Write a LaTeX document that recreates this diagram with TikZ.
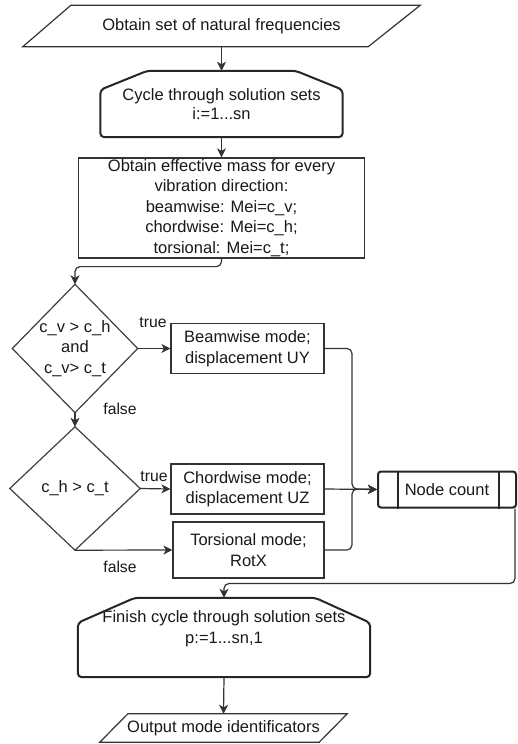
\documentclass[tikz,border=0pt]{standalone}
\usepackage{fontspec}
\setmainfont{Liberation Sans}
\usetikzlibrary{arrows.meta,calc}
\begin{document}
\begin{tikzpicture}[x=1pt,y=-1pt,
  ink/.style={draw=black!80, line width=1.2pt},
  boldline/.style={draw=black!85, line width=2pt},
  txt/.style={font=\fontsize{16.5}{20.5}\selectfont, text=black!90, align=center, inner sep=0pt},
  lbl/.style={font=\fontsize{15.7}{19}\selectfont, text=black!90, inner sep=0pt},
  flow/.style={draw=black!80, line width=1.2pt, rounded corners=5pt,
    -{Stealth[length=9pt,width=9pt,inset=2.5pt]}},
  procbox/.style={txt, ink, rectangle},
]
\useasboundingbox (0,0) rectangle (518,744);
\fill[white] (0,0) rectangle (518,744);

% input data
\node[txt, minimum width=397pt, minimum height=41pt] (in) at (221.5,26) {Obtain set of natural frequencies};
\draw[ink] ($(in.north west)+(48,0)$) -- (in.north east) -- ($(in.south east)+(-52,0)$) -- (in.south west) -- cycle;

% loop start
\node[txt, font=\fontsize{16.5}{19}\selectfont, minimum width=242pt, minimum height=66pt] (l1) at (221.5,104)
  {Cycle through solution sets\\ i:=1...sn};
\draw[boldline, rounded corners=4pt] ($(l1.north west)+(47,0)$) -- ($(l1.north east)+(-47,0)$)
  -- ($(l1.north east)+(0,19)$) -- (l1.south east) -- (l1.south west)
  -- ($(l1.north west)+(0,19)$) -- cycle;

% effective mass
\node[procbox, minimum width=286pt, minimum height=100pt] (mass) at (221.5,208)
  {Obtain effective mass for every\\ vibration direction:\\ beamwise: Mei=c\_v;\\
   chordwise: Mei=c\_h;\\ torsional: Mei=c\_t;};

% decisions
\node[txt, minimum width=125pt, minimum height=128pt] (d1) at (75,348.5)
  {c\_v > c\_h\\ and\\ c\_v> c\_t};
\draw[ink, draw=black!75] (d1.north) -- (d1.east) -- (d1.south) -- (d1.west) -- cycle;

\node[txt, minimum width=130pt, minimum height=123pt] (d2) at (75,488.5) {c\_h > c\_t};
\draw[ink, draw=black!75] (d2.north) -- (d2.east) -- (d2.south) -- (d2.west) -- cycle;

% modes
\node[procbox, minimum width=153pt, minimum height=50pt] (beam) at (247.5,348.5)
  {Beamwise mode;\\ displacement UY};
\node[procbox, minimum width=153pt, minimum height=50pt] (chord) at (247.5,489)
  {Chordwise mode;\\ displacement UZ};
\node[procbox, minimum width=151pt, minimum height=56pt] (tors) at (248.5,550)
  {Torsional mode;\\ RotX};

% predefined process
\node[txt, boldline, rounded corners=3pt, minimum width=138pt, minimum height=36pt] (nc) at (447,489.5)
  {Node count};
\draw[boldline] ([xshift=21pt]nc.north west) -- ([xshift=21pt]nc.south west);
\draw[boldline] ([xshift=-18pt]nc.north east) -- ([xshift=-18pt]nc.south east);

% loop end
\node[txt, minimum width=292pt, minimum height=79pt] (l2) at (224,637.5)
  {Finish cycle through solution sets\\ p:=1...sn,1\\ \mbox{}};
\draw[boldline, rounded corners=4pt] ($(l2.north west)+(57,0)$) -- ($(l2.north east)+(-55,0)$)
  -- ($(l2.north east)+(0,25)$) -- (l2.south east) -- (l2.south west)
  -- ($(l2.north west)+(0,25)$) -- cycle;

% output data
\node[txt, minimum width=247pt, minimum height=28pt] (out) at (223.5,728) {Output mode identificators};
\draw[ink] ($(out.north west)+(28,0)$) -- (out.north east) -- ($(out.south east)+(-28,0)$) -- (out.south west) -- cycle;

% connectors
\coordinate (mj) at (352,489);
\draw[flow] (in.south) -- (l1.north);
\draw[flow] (l1.south) -- (mass.north);
\draw[flow] (mass.south) -- ++(0,8) -| (d1.north);
\draw[flow] (d1.east) -- (beam.west);
\draw[flow] (d1.south) -- (d2.north);
\draw[flow] (d2.east) -- (chord.west);
\draw[flow] (d2.south) -- (tors.west);
\draw[flow] (beam.east) -| (mj) -- (nc.west);
\draw[flow] (chord.east) -- (nc.west);
\draw[flow] (tors.east) -| (mj) -- (nc.west);
\draw[flow] ([xshift=-2pt]nc.south east) -- ++(0,75) -| (l2.north);
\draw[flow] (l2.south) -- (out.north);

% branch labels
\node[lbl] (t1) at (153,322) {true};
\node[lbl] (f1) at (120,409) {false};
\node[lbl] (t2) at (154,476) {true};
\node[lbl] (f2) at (120,567) {false};
\end{tikzpicture}
\end{document}
